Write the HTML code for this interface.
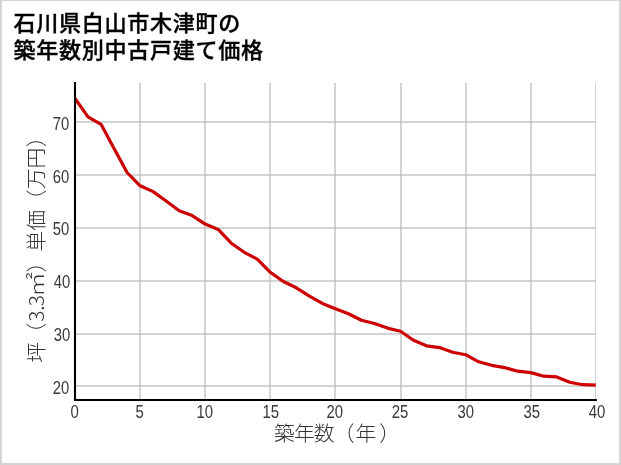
<!DOCTYPE html>
<html lang="ja"><head><meta charset="utf-8"><title>石川県白山市木津町の築年数別中古戸建て価格</title>
<style>html,body{margin:0;padding:0;background:#fff}svg{display:block;will-change:transform}</style></head>
<body>
<svg width="621" height="465" viewBox="0 0 621 465">
<rect x="0" y="0" width="621" height="465" fill="#d3d3d3"/>
<rect x="1.8" y="1" width="617.3" height="462" fill="#ffffff"/>
<defs><clipPath id="ax"><rect x="75" y="83" width="520.9" height="317"/></clipPath></defs>
<g stroke="#b0b0b0" stroke-opacity="0.55" stroke-width="2" clip-path="url(#ax)"><line x1="140" y1="83" x2="140" y2="400" /><line x1="205" y1="83" x2="205" y2="400" /><line x1="270" y1="83" x2="270" y2="400" /><line x1="335" y1="83" x2="335" y2="400" /><line x1="401" y1="83" x2="401" y2="400" /><line x1="466" y1="83" x2="466" y2="400" /><line x1="531" y1="83" x2="531" y2="400" /><line x1="596" y1="83" x2="596" y2="400" /><line x1="75" y1="122" x2="596" y2="122" /><line x1="75" y1="175" x2="596" y2="175" /><line x1="75" y1="228" x2="596" y2="228" /><line x1="75" y1="281" x2="596" y2="281" /><line x1="75" y1="334" x2="596" y2="334" /><line x1="75" y1="386" x2="596" y2="386" /></g>
<path d="M75.00,98.40 L88.02,116.80 L101.04,124.30 L114.06,148.50 L127.08,172.50 L140.10,185.80 L153.12,191.60 L166.14,201.00 L179.16,210.70 L192.18,215.60 L205.20,224.10 L218.22,229.40 L231.24,243.20 L244.26,252.30 L257.28,259.20 L270.30,272.30 L283.32,281.50 L296.34,287.80 L309.36,296.10 L322.38,303.40 L335.40,308.80 L348.42,313.70 L361.44,320.20 L374.46,323.45 L387.48,328.10 L400.50,331.20 L413.52,340.30 L426.54,345.80 L439.56,347.55 L452.58,352.30 L465.60,354.70 L478.62,361.80 L491.64,365.30 L504.66,367.60 L517.68,371.20 L530.70,372.60 L543.72,376.20 L556.74,376.90 L569.76,382.30 L582.78,384.70 L595.80,385.20" fill="none" stroke="#cc0000" stroke-width="3.2" stroke-linejoin="round" stroke-linecap="butt" clip-path="url(#ax)"/>
<line x1="75" y1="82" x2="75" y2="401" stroke="#000" stroke-width="2.1"/>
<line x1="74" y1="400" x2="596.9" y2="400" stroke="#000" stroke-width="2.1"/>
<text x="69.20" y="129.80" text-anchor="end" textLength="16.5" lengthAdjust="spacingAndGlyphs" font-family="Liberation Sans, sans-serif" font-size="17.8" fill="#383838">70</text>
<text x="69.20" y="182.80" text-anchor="end" textLength="16.5" lengthAdjust="spacingAndGlyphs" font-family="Liberation Sans, sans-serif" font-size="17.8" fill="#383838">60</text>
<text x="69.20" y="234.80" text-anchor="end" textLength="16.5" lengthAdjust="spacingAndGlyphs" font-family="Liberation Sans, sans-serif" font-size="17.8" fill="#383838">50</text>
<text x="70.30" y="287.80" text-anchor="end" textLength="16.5" lengthAdjust="spacingAndGlyphs" font-family="Liberation Sans, sans-serif" font-size="17.8" fill="#383838">40</text>
<text x="70.30" y="340.80" text-anchor="end" textLength="16.5" lengthAdjust="spacingAndGlyphs" font-family="Liberation Sans, sans-serif" font-size="17.8" fill="#383838">30</text>
<text x="69.20" y="393.80" text-anchor="end" textLength="16.5" lengthAdjust="spacingAndGlyphs" font-family="Liberation Sans, sans-serif" font-size="17.8" fill="#383838">20</text>
<text x="74.70" y="418.0" text-anchor="middle" textLength="8.3" lengthAdjust="spacingAndGlyphs" font-family="Liberation Sans, sans-serif" font-size="17.8" fill="#383838">0</text>
<text x="139.70" y="418.0" text-anchor="middle" textLength="8.3" lengthAdjust="spacingAndGlyphs" font-family="Liberation Sans, sans-serif" font-size="17.8" fill="#383838">5</text>
<text x="204.70" y="418.0" text-anchor="middle" textLength="16.6" lengthAdjust="spacingAndGlyphs" font-family="Liberation Sans, sans-serif" font-size="17.8" fill="#383838">10</text>
<text x="270.70" y="418.0" text-anchor="middle" textLength="16.6" lengthAdjust="spacingAndGlyphs" font-family="Liberation Sans, sans-serif" font-size="17.8" fill="#383838">15</text>
<text x="334.70" y="418.0" text-anchor="middle" textLength="16.6" lengthAdjust="spacingAndGlyphs" font-family="Liberation Sans, sans-serif" font-size="17.8" fill="#383838">20</text>
<text x="400.10" y="418.0" text-anchor="middle" textLength="16.6" lengthAdjust="spacingAndGlyphs" font-family="Liberation Sans, sans-serif" font-size="17.8" fill="#383838">25</text>
<text x="465.70" y="418.0" text-anchor="middle" textLength="16.6" lengthAdjust="spacingAndGlyphs" font-family="Liberation Sans, sans-serif" font-size="17.8" fill="#383838">30</text>
<text x="531.70" y="418.0" text-anchor="middle" textLength="16.6" lengthAdjust="spacingAndGlyphs" font-family="Liberation Sans, sans-serif" font-size="17.8" fill="#383838">35</text>
<text x="597.10" y="418.0" text-anchor="middle" textLength="16.6" lengthAdjust="spacingAndGlyphs" font-family="Liberation Sans, sans-serif" font-size="17.8" fill="#383838">40</text>
<text x="274.08 293.88 313.85 333.86 355.53 379.14" y="441.1" font-family="Noto Sans CJK JP, sans-serif" font-weight="300" font-size="20.8" fill="#333">築年数（年）</text>
<text transform="translate(43.5,362) rotate(-90)" y="0" font-family="Noto Sans CJK JP, sans-serif" font-weight="300" font-size="20.8" fill="#333"><tspan x="-0.76">坪</tspan><tspan x="18.51">（</tspan><tspan x="40.15">3</tspan><tspan x="51.15">.</tspan><tspan x="55.70">3</tspan><tspan x="65.01" textLength="24.96" lengthAdjust="spacingAndGlyphs">㎡</tspan><tspan x="89.64">）</tspan><tspan x="110.28">単</tspan><tspan x="131.25">価</tspan><tspan x="151.66">（</tspan><tspan x="172.93">万</tspan><tspan x="193.64">円</tspan><tspan x="214.89">）</tspan></text>
<text x="13.5" y="30.6" font-family="Noto Sans CJK JP, sans-serif" font-weight="500" font-size="22.1" letter-spacing="0.65" fill="#000" stroke="#000" stroke-width="0.35">石川県白山市木津町の</text>
<text x="13.5" y="58.3" font-family="Noto Sans CJK JP, sans-serif" font-weight="500" font-size="22.1" letter-spacing="0.65" fill="#000" stroke="#000" stroke-width="0.35">築年数別中古戸建て価格</text>
</svg>
</body></html>
